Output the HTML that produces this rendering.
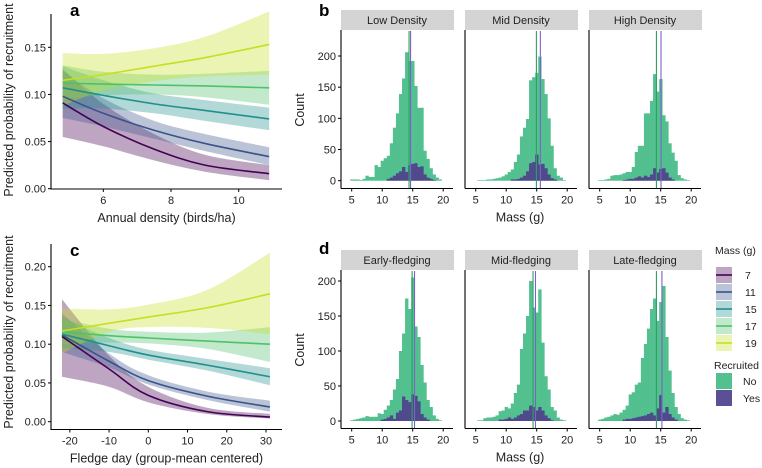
<!DOCTYPE html>
<html><head><meta charset="utf-8"><style>
html,body{margin:0;padding:0;background:#fff;}
svg{display:block;font-family:"Liberation Sans",Arial,sans-serif;}
</style></head><body>
<svg id="fig" width="762" height="468" viewBox="0 0 762 468"></svg>
<script>
// ---------- DATA: line panels ----------
const massLevels = ["7","11","15","17","19"];
const lineColors = ["#440154","#3b528b","#21908c","#4fc16b","#c6df22"];
// panel a
const densityX = [4.8, 6, 7.5, 9, 10.9];
const aFit = [[0.091,0.066,0.042,0.025,0.016],[0.098,0.080,0.062,0.048,0.034],[0.107,0.099,0.090,0.083,0.074],[0.112,0.111,0.110,0.109,0.107],[0.115,0.121,0.130,0.139,0.153]];
const aLow = [[0.055,0.045,0.030,0.018,0.009],[0.075,0.066,0.053,0.040,0.025],[0.085,0.085,0.080,0.072,0.062],[0.095,0.099,0.100,0.097,0.089],[0.088,0.104,0.114,0.119,0.121]];
const aHigh = [[0.127,0.090,0.058,0.036,0.025],[0.125,0.096,0.072,0.058,0.044],[0.130,0.115,0.101,0.094,0.086],[0.131,0.124,0.121,0.122,0.125],[0.144,0.143,0.149,0.161,0.188]];
const aYTicks = [0, 0.05, 0.10, 0.15];
const aYLabels = ["0.00","0.05","0.10","0.15"];
const aXTicks = [6, 8, 10];
// panel c
const fledgeX = [-22, -10, 0, 15, 31];
const cFit = [[0.110,0.068,0.034,0.013,0.006],[0.112,0.078,0.053,0.033,0.019],[0.113,0.098,0.086,0.073,0.058],[0.116,0.111,0.108,0.104,0.100],[0.117,0.127,0.135,0.147,0.165]];
const cLow = [[0.058,0.045,0.025,0.010,0.004],[0.090,0.070,0.048,0.028,0.013],[0.095,0.090,0.080,0.066,0.047],[0.100,0.102,0.101,0.094,0.077],[0.088,0.116,0.122,0.121,0.113]];
const cHigh = [[0.158,0.085,0.045,0.018,0.010],[0.140,0.088,0.060,0.039,0.027],[0.135,0.108,0.093,0.081,0.069],[0.133,0.120,0.116,0.115,0.122],[0.146,0.145,0.151,0.170,0.218]];
const cYTicks = [0, 0.05, 0.10, 0.15, 0.20];
const cYLabels = ["0.00","0.05","0.10","0.15","0.20"];
const cXTicks = [-20, -10, 0, 10, 20, 30];

// ---------- DATA: histograms (bins of 0.5 g starting at 5 g) ----------
const binStart = 5, binWidth = 0.5;
const bTitles = ["Low Density","Mid Density","High Density"];
const dTitles = ["Early-fledging","Mid-fledging","Late-fledging"];
const bTotal = [
 [2,2,2,1,3,8,6,6,25,22,32,36,40,60,85,108,139,164,206,192,192,152,117,117,48,35,20,10,5,2],
 [0,1,1,1,2,2,3,4,5,7,10,14,18,30,42,71,85,99,161,166,173,199,163,139,100,56,20,8,5,1],
 [1,1,2,3,8,9,9,10,12,14,14,22,46,56,56,108,108,128,171,143,163,105,95,60,45,32,9,4,2,1]];
const bYes = [
 [0,0,0,0,0,0,0,0,0,0,0,0,3,5,8,12,15,22,14,25,27,28,22,23,10,5,3,1,0,0],
 [0,0,0,0,0,0,0,0,0,0,0,0,2,2,3,5,8,15,28,30,42,26,27,20,10,4,2,0,0,0],
 [0,0,0,0,0,0,0,0,1,2,3,3,5,7,5,8,6,10,20,13,19,20,13,5,2,0,0,0,0,0]];
const bMeanNo = [14.4, 14.95, 14.3];
const bMeanYes = [14.65, 15.6, 15.05];
const dTotal = [
 [1,2,3,4,5,7,6,6,6,11,10,16,22,30,45,60,100,125,175,160,205,135,120,80,55,30,20,8,3,1],
 [0,1,1,4,5,5,6,8,14,15,20,18,25,40,52,103,125,150,200,162,155,188,112,64,45,20,15,5,2,1],
 [2,3,5,6,8,10,9,12,16,22,38,41,52,55,90,110,132,160,175,143,170,193,120,72,40,20,10,4,2,1]];
const dYes = [
 [0,0,0,0,0,0,0,0,0,0,2,3,5,8,3,12,15,35,30,27,38,36,28,10,5,2,0,0,0,0],
 [0,0,0,0,0,0,0,0,2,2,3,5,3,5,8,10,15,15,22,20,15,20,15,8,4,1,0,0,0,0],
 [0,0,0,0,0,0,0,0,2,3,3,4,5,6,7,8,10,12,8,18,37,12,20,10,5,2,0,0,0,0]];
const dMeanNo = [14.9, 14.4, 14.3];
const dMeanYes = [15.3, 14.8, 15.2];
const histXTicks = [5, 10, 15, 20];
const histYTicks = [0, 50, 100, 150, 200];

// ---------- helpers ----------
const NS = "http://www.w3.org/2000/svg";
const svg = document.getElementById("fig");
function mk(tag, attrs, parent) {
  const e = document.createElementNS(NS, tag);
  for (const k in attrs) e.setAttribute(k, attrs[k]);
  (parent || svg).appendChild(e);
  return e;
}
function txt(s, attrs, parent) { const t = mk("text", attrs, parent); t.textContent = s; return t; }
function lin(d0, d1, r0, r1) { return v => r0 + (v - d0) / (d1 - d0) * (r1 - r0); }
function smoothPath(pts, move) {
  let d = (move ? "M" : "L") + pts[0][0].toFixed(2) + "," + pts[0][1].toFixed(2);
  for (let i = 0; i < pts.length - 1; i++) {
    const p0 = pts[Math.max(0, i - 1)], p1 = pts[i], p2 = pts[i + 1], p3 = pts[Math.min(pts.length - 1, i + 2)];
    const c1 = [p1[0] + (p2[0] - p0[0]) / 6, p1[1] + (p2[1] - p0[1]) / 6];
    const c2 = [p2[0] - (p3[0] - p1[0]) / 6, p2[1] - (p3[1] - p1[1]) / 6];
    d += "C" + c1[0].toFixed(2) + "," + c1[1].toFixed(2) + " " + c2[0].toFixed(2) + "," + c2[1].toFixed(2) + " " + p2[0].toFixed(2) + "," + p2[1].toFixed(2);
  }
  return d;
}

// ---------- line panel ----------
function linePanel(cfg) {
  const g = mk("g", {});
  
  
  const xs = lin(cfg.xd[0], cfg.xd[1], cfg.xr[0], cfg.xr[1]);
  const ys = lin(cfg.yd[0], cfg.yd[1], cfg.yr[0], cfg.yr[1]);
  for (let s = 0; s < massLevels.length; s++) {
    const up = cfg.xv.map((x, i) => [xs(x), ys(cfg.hi[s][i])]);
    const lo = cfg.xv.map((x, i) => [xs(x), ys(cfg.lo[s][i])]).reverse();
    const band = mk("path", { d: smoothPath(up, true) + smoothPath(lo, false) + "Z", fill: lineColors[s], "fill-opacity": 0.35, stroke: "none" }, g);
    
    
  }
  for (let s = 0; s < massLevels.length; s++) {
    const pts = cfg.xv.map((x, i) => [xs(x), ys(cfg.fit[s][i])]);
    const ln = mk("path", { d: smoothPath(pts, true), fill: "none", stroke: lineColors[s], "stroke-width": 1.6 }, g);
    
    
  }
  const ax = mk("path", { d: `M${cfg.ax},${cfg.yTop}V${cfg.ay}H${cfg.axEnd}`, fill: "none", stroke: "#000", "stroke-width": 1.1 }, g);
  
  
  cfg.yt.forEach((v, i) => {
    mk("line", { x1: cfg.ax - 3, x2: cfg.ax, y1: ys(v), y2: ys(v), stroke: "#000" }, g);
    const t = txt(cfg.yl[i], { x: cfg.ax - 5, y: ys(v) + 4, "text-anchor": "end", "font-size": 11, fill: "#222" }, g);
    
    
  });
  cfg.xt.forEach(v => {
    mk("line", { x1: xs(v), x2: xs(v), y1: cfg.ay, y2: cfg.ay + 3, stroke: "#000" }, g);
    const t = txt(String(v), { x: xs(v), y: cfg.ay + 15, "text-anchor": "middle", "font-size": 11, fill: "#222" }, g);
    
    
  });
  const xt = txt(cfg.xTitle, { x: (cfg.ax + cfg.axEnd) / 2, y: cfg.ay + 33, "text-anchor": "middle", "font-size": 12.5, fill: "#222" }, g);
  
  
  const yt = txt("Predicted probability of recruitment", { x: 0, y: 0, transform: `translate(${cfg.ytx},${cfg.yty}) rotate(-90)`, "text-anchor": "middle", "font-size": 12.5, fill: "#222" }, g);
  
  
  const pl = txt(cfg.letter, { x: 70, y: cfg.letterY, "font-size": 17, "font-weight": "bold" }, g);
  
  
}

linePanel({ name: "panel-a", letter: "a", letterY: 16, xv: densityX, fit: aFit, lo: aLow, hi: aHigh,
  xd: [6, 10], xr: [103.3, 238.7], yd: [0, 0.15], yr: [188.7, 47.3], ax: 51, ay: 189, axEnd: 282, yTop: 14,
  yt: aYTicks, yl: aYLabels, xt: aXTicks, xTitle: "Annual density (birds/ha)", ytx: 13, yty: 100 });
linePanel({ name: "panel-c", letter: "c", letterY: 256, xv: fledgeX, fit: cFit, lo: cLow, hi: cHigh,
  xd: [0, 30], xr: [148.3, 266], yd: [0, 0.2], yr: [421.7, 266.7], ax: 51, ay: 429.5, axEnd: 282, yTop: 244,
  yt: cYTicks, yl: cYLabels, xt: cXTicks, xTitle: "Fledge day (group-mean centered)", ytx: 13, yty: 332 });

// ---------- histogram panels ----------
function histRow(cfg) {
  const lefts = [341, 465, 589];
  const w = 112;
  const ys = lin(0, 200, cfg.y0, cfg.y200);
  for (let p = 0; p < 3; p++) {
    const g = mk("g", {});
    
    
    const L = lefts[p];
    const xs = lin(5, 20, L + 10.7, L + 10.7 + 91.5);
    const strip = mk("rect", { x: L, y: cfg.stripY, width: w + 1, height: 20, fill: "#d4d4d4" }, g);
    
    
    const st = txt(cfg.titles[p], { x: L + w / 2, y: cfg.stripY + 14, "text-anchor": "middle", "font-size": 11, fill: "#222" }, g);
    
    
    cfg.total[p].forEach((c, i) => {
      if (c <= 0) return;
      const x0 = xs(binStart + binWidth * i - binWidth / 2), x1 = xs(binStart + binWidth * (i + 1) - binWidth / 2);
      const r = mk("rect", { x: x0, y: ys(c), width: x1 - x0 + 0.3, height: ys(0) - ys(c), fill: "#53c08f" }, g);
      
      
    });
    cfg.yes[p].forEach((c, i) => {
      if (c <= 0) return;
      const x0 = xs(binStart + binWidth * i - binWidth / 2), x1 = xs(binStart + binWidth * (i + 1) - binWidth / 2);
      const r = mk("rect", { x: x0, y: ys(c), width: x1 - x0 + 0.3, height: ys(0) - ys(c), fill: "#4f4a8c" }, g);
      
      
    });
    const mn = mk("line", { x1: xs(cfg.meanNo[p]), x2: xs(cfg.meanNo[p]), y1: cfg.stripY + 21, y2: cfg.axisY, stroke: "#2e9e66", "stroke-width": 1.1 }, g);
    
    
    const my = mk("line", { x1: xs(cfg.meanYes[p]), x2: xs(cfg.meanYes[p]), y1: cfg.stripY + 21, y2: cfg.axisY, stroke: "#7a64c4", "stroke-width": 1.1 }, g);
    
    
    mk("line", { x1: L, x2: L + w, y1: cfg.axisY, y2: cfg.axisY, stroke: "#000", "stroke-width": 1.1 }, g);
    mk("line", { x1: L, x2: L, y1: cfg.stripY + 20, y2: cfg.axisY, stroke: "#000", "stroke-width": 1.1 }, g);
    histXTicks.forEach(v => {
      mk("line", { x1: xs(v), x2: xs(v), y1: cfg.axisY, y2: cfg.axisY + 3, stroke: "#000" }, g);
      const t = txt(String(v), { x: xs(v), y: cfg.axisY + 15, "text-anchor": "middle", "font-size": 11, fill: "#222" }, g);
      
      
    });
    if (p === 0) {
      histYTicks.forEach(v => {
        if (ys(v) < cfg.stripY + 22) return;
        mk("line", { x1: L - 3, x2: L, y1: ys(v), y2: ys(v), stroke: "#000" }, g);
        const t = txt(String(v), { x: L - 5, y: ys(v) + 4, "text-anchor": "end", "font-size": 11, fill: "#222" }, g);
        
        
      });
    }
  }
  const xt = txt("Mass (g)", { x: 520, y: cfg.axisY + 33, "text-anchor": "middle", "font-size": 12.5, fill: "#222" });
  
  
  const yt = txt("Count", { x: 0, y: 0, transform: `translate(${cfg.ytx},${cfg.yty}) rotate(-90)`, "text-anchor": "middle", "font-size": 12.5, fill: "#222" });
  
  
  const pl = txt(cfg.letter, { x: 319, y: cfg.letterY, "font-size": 17, "font-weight": "bold" });
  
  
}
histRow({ name: "panel-b", letter: "b", letterY: 16, titles: bTitles, total: bTotal, yes: bYes, meanNo: bMeanNo, meanYes: bMeanYes,
  y0: 180.7, y200: 56, axisY: 188.5, stripY: 10, ytx: 304, yty: 110 });
histRow({ name: "panel-d", letter: "d", letterY: 254, titles: dTitles, total: dTotal, yes: dYes, meanNo: dMeanNo, meanYes: dMeanYes,
  y0: 421, y200: 281, axisY: 428.5, stripY: 250, ytx: 304, yty: 350 });

// ---------- legend ----------
const lg = mk("g", {});


txt("Mass (g)", { x: 715, y: 254, "font-size": 10.5, fill: "#222" }, lg);
massLevels.forEach((m, i) => {
  const y = 267 + i * 17;
  const e = mk("g", {}, lg);
  
  
  mk("rect", { x: 716, y: y, width: 16, height: 16, fill: lineColors[i], "fill-opacity": 0.35 }, e);
  mk("line", { x1: 716, x2: 732, y1: y + 8, y2: y + 8, stroke: lineColors[i], "stroke-width": 1.6 }, e);
  txt(m, { x: 745, y: y + 12, "font-size": 10.5, fill: "#222" }, e);
});
txt("Recruited", { x: 714, y: 369, "font-size": 10.5, fill: "#222" }, lg);
[["No", "#53c08f"], ["Yes", "#5b4f95"]].forEach((r, i) => {
  const y = 373 + i * 17;
  const e = mk("g", {}, lg);
  
  
  mk("rect", { x: 716, y: y, width: 16, height: 16, fill: r[1] }, e);
  txt(r[0], { x: 743, y: y + 12, "font-size": 10.5, fill: "#222" }, e);
});
</script>
</body></html>
